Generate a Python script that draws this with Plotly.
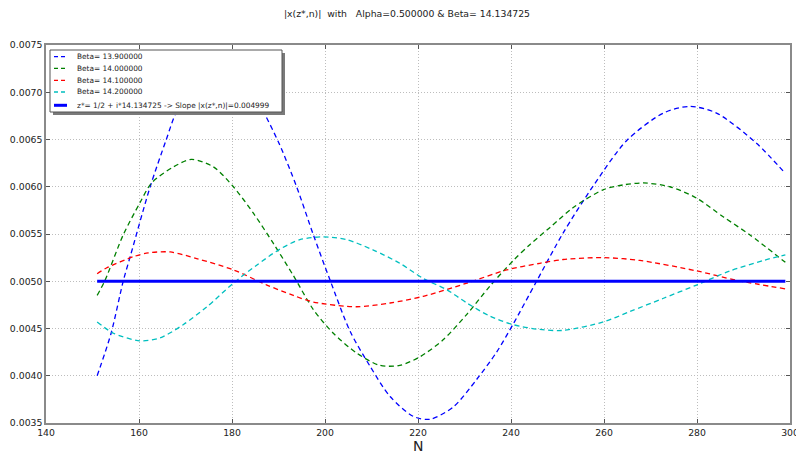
import plotly.graph_objects as go

# ---- data ----
n_b139 = [151, 154, 156.6, 158.1, 162.4, 165.8, 168.1, 172, 177.5, 183, 186.7, 190.2, 193.9,
          197.5, 201.1, 205.4, 209.7, 214, 219, 222.6, 227.6, 232.6, 236.9, 240.5, 245.5,
          251.2, 257.7, 264.9, 272.8, 278.5, 284.2, 292.8, 299]
v_b139 = [0.00400, 0.00445, 0.00500, 0.00526, 0.00600, 0.00649, 0.00680, 0.00710, 0.00722,
          0.00711, 0.00680, 0.00645, 0.00600, 0.00549, 0.00501, 0.00447, 0.00410, 0.00378,
          0.00357, 0.00354, 0.00367, 0.00396, 0.00425, 0.00455, 0.00500, 0.00551, 0.00601,
          0.00649, 0.00678, 0.00685, 0.00678, 0.00646, 0.00614]

n_b140 = [151, 152.7, 156.6, 160.2, 162.7, 167.4, 171.3, 176, 180.3, 184.6, 188.9, 193.2,
          197.5, 201.8, 206.8, 211.8, 216.1, 220.4, 225.4, 230.5, 235.5, 240.5, 244.1, 248.4,
          253.4, 259.9, 264.2, 268.5, 274.2, 279.9, 285.7, 291.4, 299]
v_b140 = [0.00485, 0.00501, 0.00549, 0.00583, 0.00604, 0.00621, 0.00629, 0.00621, 0.00600,
          0.00572, 0.00540, 0.00506, 0.00470, 0.00445, 0.00424, 0.00411, 0.00411, 0.00420,
          0.00438, 0.00465, 0.00495, 0.00522, 0.00539, 0.00557, 0.00578, 0.00597, 0.00602,
          0.00604, 0.00600, 0.00588, 0.00568, 0.00549, 0.00520]

n_b141 = [151, 153, 158.8, 162, 166.7, 172.4, 180.3, 187.5, 193.2, 197.5, 206.8, 214, 221.1,
          230.5, 239.1, 246.2, 251.2, 259.9, 267.7, 279.9, 288.5, 299]
v_b141 = [0.00508, 0.00514, 0.00526, 0.00530, 0.00531, 0.00524, 0.00512, 0.00496, 0.00485,
          0.00478, 0.00473, 0.00477, 0.00484, 0.00498, 0.00512, 0.00519, 0.00523, 0.00525,
          0.00522, 0.00511, 0.00501, 0.00492]

n_b142 = [151, 154.5, 160.2, 164.5, 169.5, 174.6, 180.3, 185.3, 190.3, 194.6, 199.6, 204.7,
          210.4, 216.1, 221.1, 226.2, 230.5, 235.5, 240.5, 246.2, 251.2, 259.9, 265.6, 272.8,
          279.9, 287.1, 294.3, 299]
v_b142 = [0.00457, 0.00445, 0.00437, 0.00440, 0.00454, 0.00473, 0.00498, 0.00517, 0.00534,
          0.00544, 0.00547, 0.00544, 0.00533, 0.00519, 0.00503, 0.00491, 0.00477, 0.00463,
          0.00454, 0.00449, 0.00448, 0.00457, 0.00468, 0.00482, 0.00496, 0.00511, 0.00522,
          0.00528]

n_zero = [151, 299]
v_zero = [0.004999, 0.004999]

series_names = ["Beta= 13.900000", "Beta= 14.000000", "Beta= 14.100000", "Beta= 14.200000"]
zero_name = "z*= 1/2 + i*14.134725 -> Slope |x(z*,n)|=0.004999"
title_text = "|x(z*,n)|\u00a0\u00a0with\u00a0\u00a0\u00a0Alpha=0.500000 & Beta= 14.134725"
x_ticks = [140, 160, 180, 200, 220, 240, 260, 280, 300]
y_ticks = [0.0035, 0.0040, 0.0045, 0.0050, 0.0055, 0.0060, 0.0065, 0.0070, 0.0075]

colors = ["#0000ff", "#008000", "#ff0000", "#00bfbf"]
ns = [n_b139, n_b140, n_b141, n_b142]
vs = [v_b139, v_b140, v_b141, v_b142]
DASH = "5px,3.5px"

fig = go.Figure()
for name, n, v, c in zip(series_names, ns, vs, colors):
    fig.add_trace(go.Scatter(x=n, y=v, mode="lines", name=name, showlegend=False,
                             line=dict(color=c, width=1.3, dash=DASH, shape="spline", smoothing=0.8)))
fig.add_trace(go.Scatter(x=n_zero, y=v_zero, mode="lines", name=zero_name, showlegend=False,
                         line=dict(color="#0000ff", width=3)))

# ---- layout geometry (pixels) ----
W, H = 796, 456
ML, MR, MT, MB = 46, 6, 45, 33
PW, PH = W - ML - MR, H - MT - MB

def px(xp):
    return (xp - ML) / PW

def py(yp):
    return (H - MB - yp) / PH

FONT = "DejaVu Sans"

shapes = []
annotations = []
# legend box with drop shadow
shapes.append(dict(type="rect", xref="paper", yref="paper", x0=px(53), x1=px(285), y0=py(53), y1=py(115),
                   fillcolor="#7a7a7a", line=dict(width=0), layer="above"))
shapes.append(dict(type="rect", xref="paper", yref="paper", x0=px(50), x1=px(282), y0=py(50), y1=py(112),
                   fillcolor="white", line=dict(color="#555", width=1), layer="above"))
leg_y = [56.7, 68.3, 80.3, 92.0, 105.3]
leg_names = series_names + [zero_name]
leg_colors = colors + ["#0000ff"]
for i, (nm, c, yy) in enumerate(zip(leg_names, leg_colors, leg_y)):
    solid = i == len(leg_names) - 1
    shapes.append(dict(type="line", xref="paper", yref="paper", x0=px(54), x1=px(67), y0=py(yy), y1=py(yy),
                       line=dict(color=c, width=3 if solid else 1.3, dash="solid" if solid else "4px,3px"),
                       layer="above"))
    annotations.append(dict(text=nm, xref="paper", yref="paper", x=px(75), y=py(yy), xanchor="left",
                            yanchor="middle", showarrow=False,
                            font=dict(family=FONT, size=7.4, color="#222")))

# x-axis label
annotations.append(dict(text="N", xref="paper", yref="paper", x=px(418), y=py(446), xanchor="center",
                        yanchor="middle", showarrow=False, font=dict(family=FONT, size=14, color="#222")))

axis_common = dict(showline=True, linecolor="#8a8a8a", linewidth=1.5, mirror="allticks",
                   ticks="inside", ticklen=4, tickcolor="#555", showgrid=True,
                   gridcolor="#bdbdbd", griddash="1px,2px", gridwidth=1, zeroline=False,
                   automargin=False, ticklabeloverflow="allow",
                   tickfont=dict(family=FONT, size=9.3, color="#222"))

fig.update_layout(
    width=W, height=H,
    margin=dict(l=ML, r=MR, t=MT, b=MB),
    paper_bgcolor="white", plot_bgcolor="white",
    title=dict(text=title_text, x=407 / W, xanchor="center", y=1 - 14 / H, yanchor="middle",
               font=dict(family=FONT, size=9.3, color="#222")),
    xaxis=dict(range=[140, 300], tickvals=x_ticks, ticktext=[str(t) for t in x_ticks], **axis_common),
    yaxis=dict(range=[0.0035, 0.0075], tickvals=y_ticks, tickformat=".4f", **axis_common),
    shapes=shapes,
    annotations=annotations,
    showlegend=False,
)

fig.write_html("out.html", config={"displayModeBar": False},
               post_script="document.body.style.margin='0';document.body.style.overflow='hidden';")
